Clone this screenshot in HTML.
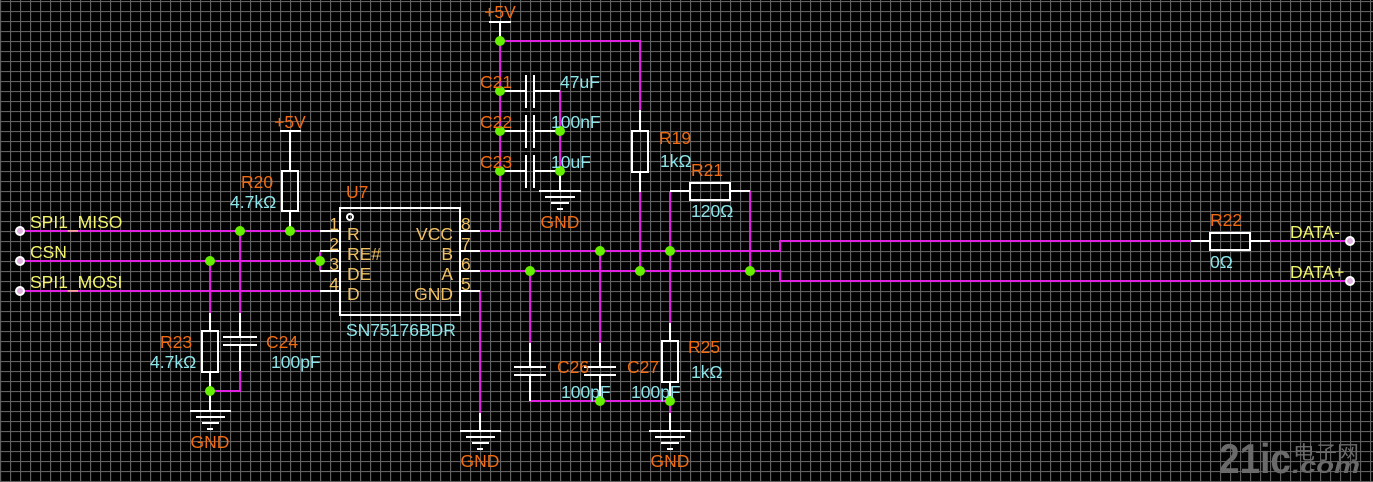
<!DOCTYPE html>
<html><head><meta charset="utf-8"><style>
html,body{margin:0;padding:0;background:#000;}
svg{display:block;}
text{font-family:"Liberation Sans","Noto Sans CJK SC",sans-serif;font-size:17.5px;}
.o{fill:#f26b10;}
.c{fill:#8ae6ea;}
.y{fill:#f4f46a;}
.p{fill:#f0c060;}
.m{stroke:#e020e0;stroke-width:2;fill:none;}
.w{stroke:#ffffff;stroke-width:2;fill:none;}
.j{fill:#66ee00;}
</style></head><body>
<svg width="1373" height="482" viewBox="0 0 1373 482" xmlns="http://www.w3.org/2000/svg">
<defs>
<pattern id="g" x="0" y="1" width="10" height="10" patternUnits="userSpaceOnUse">
<path d="M0.5 0V10M0 0.5H10" stroke="#606060" stroke-width="1.3" fill="none"/>
</pattern>
</defs>
<rect width="1373" height="482" fill="#000"/>
<rect width="1373" height="482" fill="url(#g)"/>

<!-- watermark -->
<text x="1219" y="473" style="font-size:42px;font-weight:bold;fill:#6a6a6a" textLength="72" lengthAdjust="spacingAndGlyphs">21ic</text>
<text x="1293" y="459" style="font-size:19px;fill:#6a6a6a" textLength="66" lengthAdjust="spacingAndGlyphs">电子网</text>
<text x="1292" y="473" style="font-size:22px;font-style:italic;font-weight:bold;fill:#6a6a6a" textLength="68" lengthAdjust="spacingAndGlyphs">.com</text>

<!-- magenta wires -->
<g class="m">
<path d="M20 231H320M20 261H320M20 291H320"/>
<path d="M320 251V271"/>
<path d="M240 231V313M210 261V313M240 371V391H210"/>
<path d="M480 231H500V41H640V110M640 192V271"/>
<path d="M560 91V171"/>
<path d="M480 251H780V241H1191M1270 241H1350"/>
<path d="M480 271H780V281H1350"/>
<path d="M670 251V191M750 191V271"/>
<path d="M480 291V413"/>
<path d="M530 271V343M600 251V343M670 251V323"/>
<path d="M530 401H670V413"/>
</g>

<g class="w">
<rect x="340" y="208" width="120" height="107"/>
<circle cx="350" cy="217" r="3"/>
<path d="M320 231H340M320 251H340M320 271H340M320 291H340"/>
<path d="M460 231H480M460 251H480M460 271H480M460 291H480"/>
<path d="M280 131H301M290 131V171M290 211V231"/>
<rect x="282" y="171" width="16" height="40"/>
<path d="M489 22H511M500 22V41"/>
<path d="M500 91H526M526 75V108M534 75V108M534 91H560"/>
<path d="M500 131H526M526 115V148M534 115V148M534 131H560"/>
<path d="M500 171H526M526 155V188M534 155V188M534 171H560"/>
<path d="M560 171V191M539 191H581M545 197H575M551 203H569M557 209H563"/>
<rect x="632" y="131" width="16" height="41"/>
<path d="M640 110V131M640 172V192"/>
<path d="M670 191H690M730 191H750"/>
<rect x="690" y="183" width="40" height="17"/>
<path d="M1191 241H1210M1250 241H1270"/>
<rect x="1210" y="233" width="40" height="17"/>
<path d="M480 413V431M460 431H501M466 437H495M472 443H489M477 449H483"/>
<path d="M530 343V367M514 367H546M514 375H546M530 375V401"/>
<path d="M600 343V367M584 367H616M584 375H616M600 375V401"/>
<path d="M670 323V341M670 382V401M670 413V431"/>
<rect x="662" y="341" width="16" height="41"/>
<path d="M649 431H691M655 437H685M661 443H679M667 449H673"/>
<path d="M210 313V331M210 372V411"/>
<rect x="202" y="331" width="16" height="41"/>
<path d="M190 411H231M196 417H225M202 423H219M207 429H213"/>
<path d="M240 313V337M223 337H257M223 345H257M240 345V371"/>
</g>

<g fill="#e0b0e0" stroke="#ffffff" stroke-width="2">
<circle cx="20" cy="231" r="4"/><circle cx="20" cy="261" r="4"/><circle cx="20" cy="291" r="4"/>
<circle cx="1350" cy="241" r="4"/><circle cx="1350" cy="281" r="4"/>
</g>

<g class="j">
<circle cx="240" cy="231" r="5"/><circle cx="290" cy="231" r="5"/>
<circle cx="210" cy="261" r="5"/><circle cx="320" cy="261" r="5"/>
<circle cx="210" cy="391" r="5"/>
<circle cx="500" cy="41" r="5"/>
<circle cx="500" cy="91" r="5"/><circle cx="500" cy="131" r="5"/><circle cx="500" cy="171" r="5"/>
<circle cx="560" cy="131" r="5"/><circle cx="560" cy="171" r="5"/>
<circle cx="600" cy="251" r="5"/><circle cx="670" cy="251" r="5"/>
<circle cx="530" cy="271" r="5"/><circle cx="640" cy="271" r="5"/><circle cx="750" cy="271" r="5"/>
<circle cx="600" cy="401" r="5"/><circle cx="670" cy="401" r="5"/>
</g>

<text class="y" x="30" y="228">SPI1_MISO</text>
<text class="y" x="30" y="258">CSN</text>
<text class="y" x="30" y="288">SPI1_MOSI</text>
<text class="y" x="1290" y="238">DATA-</text>
<text class="y" x="1290" y="278">DATA+</text>

<text class="o" x="290" y="128" text-anchor="middle">+5V</text>
<text class="o" x="500" y="18" text-anchor="middle">+5V</text>
<text class="o" x="241" y="188">R20</text>
<text class="c" x="230" y="208">4.7kΩ</text>
<text class="o" x="346" y="198">U7</text>
<text class="c" x="346" y="336">SN75176BDR</text>

<g class="p">
<text x="339" y="230" text-anchor="end">1</text>
<text x="339" y="250" text-anchor="end">2</text>
<text x="339" y="270" text-anchor="end">3</text>
<text x="339" y="290" text-anchor="end">4</text>
<text x="461" y="230">8</text>
<text x="461" y="250">7</text>
<text x="461" y="270">6</text>
<text x="461" y="290">5</text>
<text x="347" y="240">R</text>
<text x="347" y="260">RE#</text>
<text x="347" y="280">DE</text>
<text x="347" y="300">D</text>
<text x="453" y="240" text-anchor="end">VCC</text>
<text x="453" y="260" text-anchor="end">B</text>
<text x="453" y="280" text-anchor="end">A</text>
<text x="453" y="300" text-anchor="end">GND</text>
</g>

<text class="o" x="480" y="88">C21</text>
<text class="o" x="480" y="128">C22</text>
<text class="o" x="480" y="168">C23</text>
<text class="c" x="560" y="88">47uF</text>
<text class="c" x="551" y="128">100nF</text>
<text class="c" x="551" y="168">10uF</text>
<text class="o" x="560" y="228" text-anchor="middle">GND</text>

<text class="o" x="659" y="144">R19</text>
<text class="c" x="660" y="167">1kΩ</text>
<text class="o" x="691" y="176">R21</text>
<text class="c" x="691" y="217">120Ω</text>
<text class="o" x="1210" y="226">R22</text>
<text class="c" x="1210" y="268">0Ω</text>

<text class="o" x="557" y="373">C26</text>
<text class="c" x="561" y="398">100pF</text>
<text class="o" x="627" y="373">C27</text>
<text class="c" x="631" y="398">100pF</text>
<text class="o" x="688" y="353">R25</text>
<text class="c" x="691" y="378">1kΩ</text>
<text class="o" x="480" y="467" text-anchor="middle">GND</text>
<text class="o" x="670" y="467" text-anchor="middle">GND</text>

<text class="o" x="160" y="348">R23</text>
<text class="c" x="150" y="368">4.7kΩ</text>
<text class="o" x="266" y="348">C24</text>
<text class="c" x="271" y="368">100pF</text>
<text class="o" x="210" y="448" text-anchor="middle">GND</text>
</svg>
</body></html>
